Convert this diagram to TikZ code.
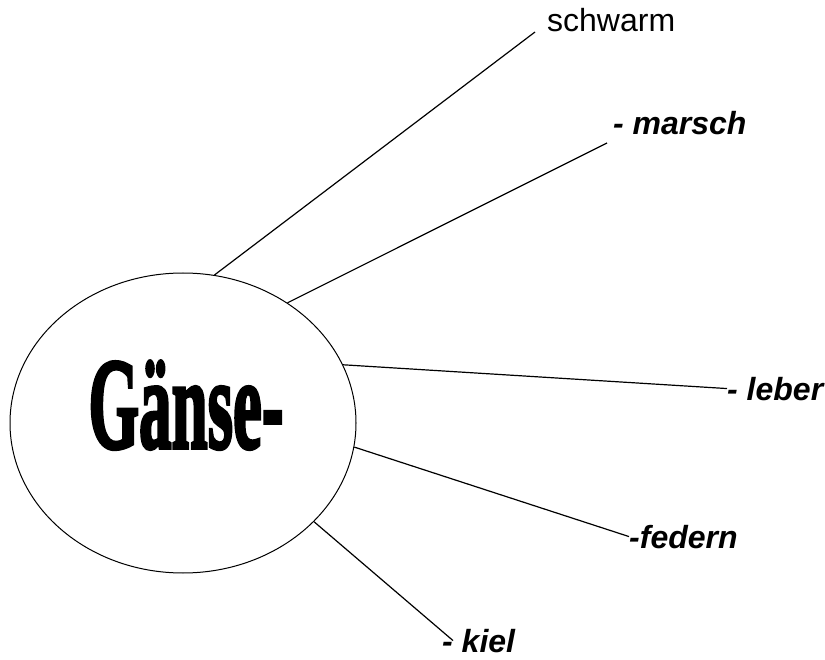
\documentclass[tikz,border=0pt]{standalone}
\usepackage{fontspec}
\setmainfont{Liberation Serif}
\setsansfont{Liberation Sans}
\newfontfamily\heavyserif[FakeBold=3]{Liberation Serif Bold}
\usetikzlibrary{shapes.geometric}
\tikzset{
  hub/.style={
    ellipse, draw=black, line width=1pt, inner sep=0pt,
    minimum width=346pt, minimum height=300pt
  },
  word/.style={anchor=base west, inner sep=0pt, font=\sffamily\fontsize{32}{38}\selectfont},
  suffix/.style={word, font=\sffamily\bfseries\itshape\fontsize{32}{38}\selectfont},
  spoke/.style={line width=1.2pt, draw=black},
}

\begin{document}
\begin{tikzpicture}[x=1pt, y=-1pt]
  \useasboundingbox (0,0) rectangle (825,660);

  % centre word
  \node[hub] (goose) at (183,423) {};
  \node[anchor=base, inner sep=0pt] (title) at (186,448)
    {\scalebox{0.5}[1]{\heavyserif\fontsize{130}{130}\selectfont Gänse-}};

  % endings
  \node[word]   (schwarm) at (547,32)  {schwarm};
  \node[suffix] (marsch)  at (613,135) {- marsch};
  \node[suffix] (leber)   at (727,400) {- leber};
  \node[suffix] (federn)  at (629,548) {-federn};
  \node[suffix] (kiel)    at (442,652) {- kiel};

  \draw[spoke] (goose.78)  -- ([xshift=-12pt]schwarm.base west);
  \draw[spoke] (goose.49)  -- ([xshift=-6pt,yshift=-8pt]marsch.base west);
  \draw[spoke] (goose.20)  -- (leber.west);
  \draw[spoke] (goose.-8)  -- (federn.west);
  \draw[spoke] (goose.-37) -- ([xshift=11pt]kiel.west);
\end{tikzpicture}
\end{document}
